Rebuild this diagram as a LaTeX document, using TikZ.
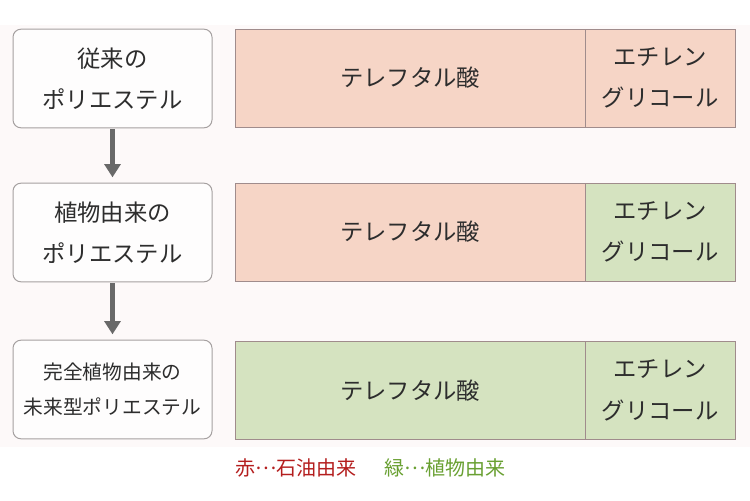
\documentclass[tikz,border=0pt]{standalone}
\usepackage{fontspec}
\setmainfont{Noto Sans CJK JP}
\usetikzlibrary{arrows.meta}

\definecolor{panelbg}{RGB}{253,249,249}
\definecolor{oilfill}{RGB}{246,213,198}
\definecolor{plantfill}{RGB}{213,227,192}
\definecolor{barline}{RGB}{160,140,140}
\definecolor{boxline}{RGB}{165,160,160}
\definecolor{txtgray}{RGB}{45,45,45}
\definecolor{arrowgray}{RGB}{105,105,105}
\definecolor{legendred}{RGB}{180,30,30}
\definecolor{legendgreen}{RGB}{105,160,50}

\newcommand{\middots}{\raisebox{0.3em}{…}}

\tikzset{every picture/.style={line width=0.75pt}}
\tikzset{
  stagebox/.style={draw=boxline, fill=white!60!panelbg, rounded corners=6pt, minimum width=149.25pt, minimum height=74pt, align=center, text=txtgray, font=\fontsize{17.5}{31}\selectfont},
  acidbar/.style={draw=barline, minimum width=262.5pt, minimum height=73.5pt, text=txtgray, font=\fontsize{17.5}{31}\selectfont},
  glycolbar/.style={draw=barline, minimum width=112.5pt, minimum height=73.5pt, align=center, text=txtgray, font=\fontsize{17.5}{31}\selectfont},
  flowarrow/.style={draw=arrowgray, line width=3.75pt, -{Triangle[width=12pt,length=10pt]}, shorten <=0.5pt, shorten >=4pt},
  legendtext/.style={anchor=west, inner sep=0pt, font=\fontsize{15}{18}\selectfont}
}

\begin{document}
\begin{tikzpicture}[x=0.75pt,y=0.75pt,yscale=-1,xscale=1]
\useasboundingbox (0,0) rectangle (750,500);
%Background panel
\fill[panelbg] (0,25) rectangle (750,447);

%Stage boxes
\node[stagebox] (conv) at (112.5,78.5) {従来の\\ポリエステル};
\node[stagebox] (plant) at (112.5,232.5) {植物由来の\\ポリエステル};
\node[stagebox, font=\fontsize{14.8}{26}\selectfont] (future) at (112.5,389.5) {完全植物由来の\\未来型ポリエステル};

%Composition bars
\node[acidbar, fill=oilfill] (acid1) at (410,78) {テレフタル酸};
\node[glycolbar, fill=oilfill] (eg1) at (660,78) {エチレン\\グリコール};
\node[acidbar, fill=oilfill] (acid2) at (410,232) {テレフタル酸};
\node[glycolbar, fill=plantfill] (eg2) at (660,232) {エチレン\\グリコール};
\node[acidbar, fill=plantfill] (acid3) at (410,390.5) {テレフタル酸};
\node[glycolbar, fill=plantfill] (eg3) at (660,390.5) {エチレン\\グリコール};

%Arrows
\draw[flowarrow] (conv) -- (plant);
\draw[flowarrow] (plant) -- (future);

%Legend
\node[legendtext, text=legendred] (oil) at (235,468) {赤\middots 石油由来};
\node[legendtext, text=legendgreen] (veg) at (384,468) {緑\middots 植物由来};

\end{tikzpicture}
\end{document}
